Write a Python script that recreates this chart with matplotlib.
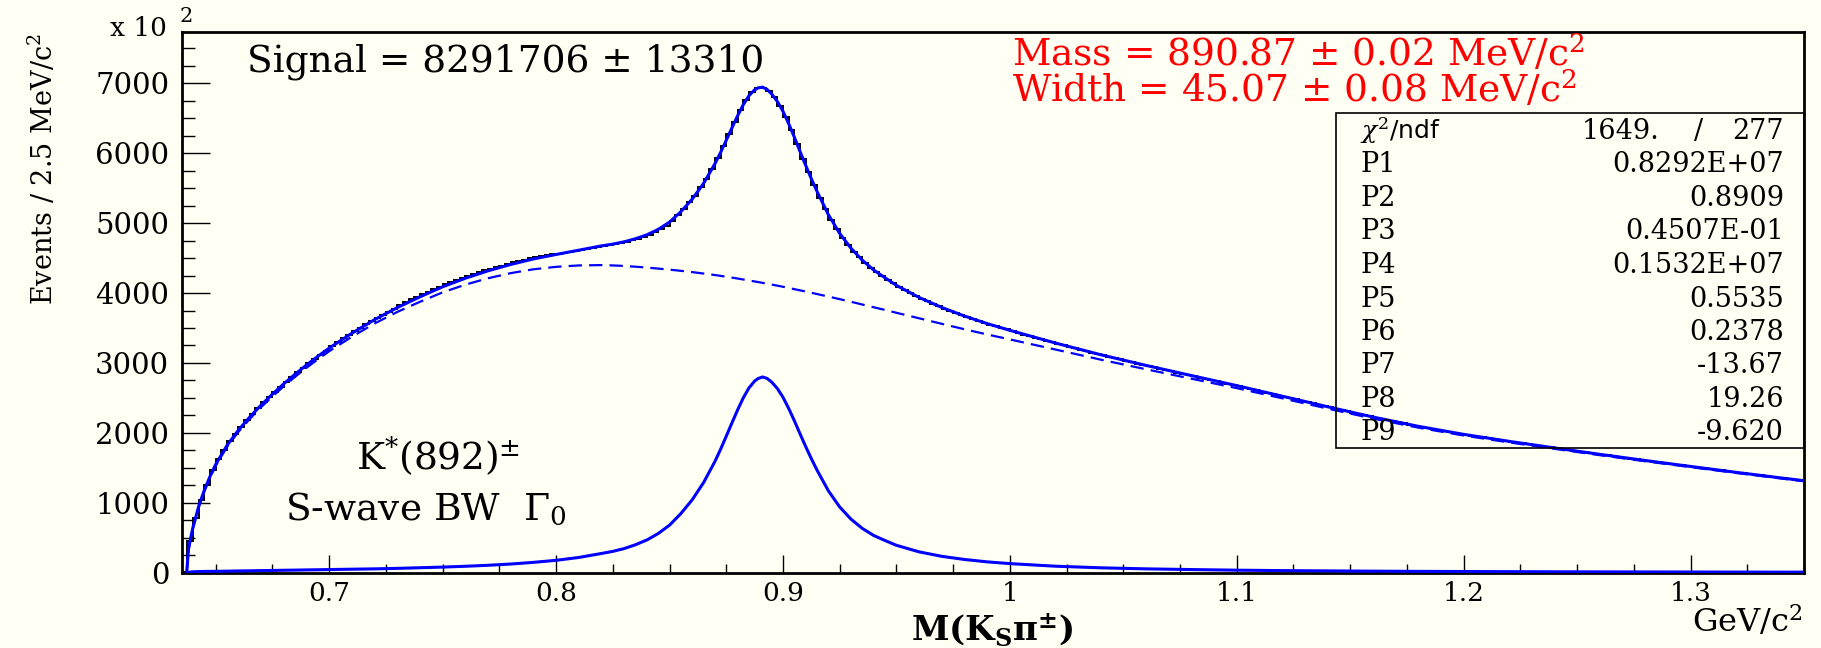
import numpy as np
import matplotlib
matplotlib.use("Agg")
import matplotlib.pyplot as plt
from matplotlib.patches import Rectangle
from matplotlib.ticker import FixedLocator, FixedFormatter, MultipleLocator

# ---------------------------------------------------------------------------
# K_S pi+- invariant mass spectrum, counts per 2.5 MeV bin in units of 100
# ---------------------------------------------------------------------------
BIN_LO = 0.635        # GeV/c^2, lower edge of first bin
BIN_WIDTH = 0.0025    # GeV/c^2

HIST = [
    10, 460, 780, 1040, 1250, 1465, 1622, 1757, 1880, 1987,
    2088, 2181, 2270, 2354, 2435, 2513, 2588, 2662, 2733, 2801,
    2869, 2933, 2997, 3058, 3119, 3176, 3248, 3301, 3353, 3406,
    3457, 3506, 3555, 3603, 3650, 3692, 3735, 3777, 3833, 3870,
    3909, 3947, 3984, 4020, 4055, 4092, 4125, 4155, 4185, 4215,
    4244, 4270, 4296, 4323, 4347, 4369, 4392, 4414, 4442, 4461,
    4479, 4499, 4515, 4532, 4540, 4553, 4557, 4571, 4585, 4599,
    4613, 4627, 4641, 4657, 4673, 4689, 4704, 4719, 4735, 4754,
    4776, 4802, 4832, 4868, 4912, 4966, 5032, 5112, 5200, 5297,
    5394, 5511, 5632, 5773, 5929, 6098, 6276, 6452, 6621, 6767,
    6875, 6934, 6940, 6893, 6798, 6677, 6516, 6327, 6128, 5923,
    5727, 5541, 5365, 5202, 5044, 4915, 4790, 4689, 4590, 4509,
    4429, 4362, 4297, 4243, 4190, 4137, 4085, 4042, 4001, 3958,
    3917, 3881, 3847, 3811, 3776, 3747, 3716, 3686, 3657, 3629,
    3603, 3576, 3550, 3527, 3504, 3481, 3458, 3428, 3406, 3383,
    3361, 3339, 3317, 3295, 3274, 3252, 3231, 3210, 3190, 3169,
    3148, 3127, 3107, 3088, 3069, 3050, 3030, 3011, 2992, 2974,
    2955, 2937, 2918, 2900, 2882, 2863, 2845, 2827, 2810, 2792,
    2774, 2756, 2738, 2720, 2702, 2684, 2666, 2647, 2629, 2610,
    2590, 2571, 2553, 2534, 2516, 2496, 2478, 2459, 2440, 2421,
    2402, 2383, 2365, 2346, 2328, 2309, 2291, 2273, 2255, 2236,
    2219, 2203, 2185, 2169, 2152, 2136, 2119, 2102, 2087, 2073,
    2058, 2044, 2029, 2014, 2000, 1986, 1973, 1960, 1947, 1935,
    1922, 1910, 1897, 1885, 1873, 1861, 1849, 1838, 1826, 1814,
    1802, 1791, 1779, 1768, 1756, 1744, 1733, 1721, 1710, 1699,
    1688, 1677, 1665, 1654, 1643, 1632, 1621, 1610, 1600, 1589,
    1578, 1567, 1557, 1546, 1536, 1525, 1515, 1504, 1494, 1483,
    1472, 1462, 1452, 1441, 1431, 1421, 1411, 1401, 1391, 1380,
    1370, 1360, 1350, 1340, 1331, 1321,
]

# Fit components sampled on a common mass grid (units of 100 / 2.5 MeV)
CURVE_MASS = [
    0.6372, 0.638, 0.639, 0.640, 0.6425, 0.645, 0.6475, 0.650,
    0.655, 0.660, 0.665, 0.670, 0.675, 0.680, 0.685, 0.690, 0.695, 0.700,
    0.710, 0.720, 0.730, 0.740, 0.750, 0.760, 0.770, 0.780, 0.790, 0.800,
    0.810, 0.820, 0.825, 0.830, 0.835, 0.840,
    0.845, 0.850, 0.855, 0.860, 0.865, 0.870,
    0.8725, 0.875, 0.8775, 0.880, 0.8825, 0.885, 0.8875, 0.889, 0.891,
    0.893, 0.895, 0.8975, 0.900, 0.9025, 0.905, 0.9075, 0.910, 0.9125, 0.915,
    0.920, 0.925, 0.930, 0.935, 0.940, 0.945, 0.950,
    0.960, 0.970, 0.980, 0.990, 1.000,
    1.020, 1.040, 1.060, 1.080, 1.100, 1.120, 1.140, 1.160, 1.180, 1.200,
    1.220, 1.240, 1.260, 1.280, 1.300, 1.320, 1.340, 1.350,
]
BKG = [
    0, 330, 495, 640, 935, 1165, 1360, 1530,
    1800, 2015, 2200, 2368, 2522, 2667, 2803, 2931, 3053, 3168,
    3375, 3565, 3730, 3875, 4010, 4120, 4212, 4285, 4340, 4375,
    4395, 4400, 4395, 4388, 4377, 4365,
    4350, 4335, 4318, 4300, 4279, 4258,
    4246, 4233, 4221, 4208, 4194, 4180, 4166, 4158, 4146,
    4133, 4121, 4106, 4090, 4073, 4056, 4039, 4022, 4004, 3986,
    3950, 3913, 3875, 3836, 3797, 3758, 3718,
    3639, 3560, 3482, 3408, 3337,
    3193, 3048, 2910, 2775, 2640, 2495, 2348, 2205, 2075, 1962,
    1864, 1772, 1681, 1594, 1510, 1427, 1347, 1308,
]
SIG = [
    0, 6, 10, 13, 16, 18, 19, 20,
    22, 25, 27, 30, 32, 35, 37, 40, 42, 45,
    50, 55, 62, 71, 80, 92, 106, 124, 148, 177,
    218, 275, 305, 345, 400, 468,
    560, 680, 846, 1043, 1289, 1591,
    1765, 1952, 2142, 2328, 2500, 2643, 2741, 2777, 2800,
    2779, 2727, 2636, 2510, 2351, 2175, 1988, 1805, 1631, 1468,
    1172, 940, 765, 633, 532, 460, 392,
    298, 234, 189, 155, 130,
    93, 70, 55, 45, 36, 30, 26, 22, 19, 17,
    15, 13, 12, 11, 10, 9, 8, 8,
]

# Fit results
SIGNAL_YIELD = 8291706
SIGNAL_ERR = 13310
MASS_MEV, MASS_ERR = 890.87, 0.02
WIDTH_MEV, WIDTH_ERR = 45.07, 0.08
CHI2_TEXT, NDF = "1649.", 277
PAR_NAMES = ["P1", "P2", "P3", "P4", "P5", "P6", "P7", "P8", "P9"]
PAR_VALUES = ["0.8292E+07", "0.8909", "0.4507E-01", "0.1532E+07", "0.5535",
              "0.2378", "-13.67", "19.26", "-9.620"]

XTICKS = [0.7, 0.8, 0.9, 1.0, 1.1, 1.2, 1.3]
XTICK_LABELS = ["0.7", "0.8", "0.9", "1", "1.1", "1.2", "1.3"]
YTICKS = [0, 1000, 2000, 3000, 4000, 5000, 6000, 7000]
YTICK_LABELS = ["0", "1000", "2000", "3000", "4000", "5000", "6000", "7000"]

# ---------------------------------------------------------------------------
plt.rcParams["font.family"] = ["DejaVu Serif"]
plt.rcParams["mathtext.fontset"] = "dejavuserif"

PAPER = "#fffff3"
BLUE = "#0000ff"
W, H = 1821, 648

fig = plt.figure(figsize=(W / 100, H / 100), dpi=100, facecolor=PAPER)


def fx(px):
    return px / W


def fy(py):
    return 1 - py / H


ax_l, ax_r, ax_t, ax_b = 181.7, 1804.0, 32.3, 572.7
ax = fig.add_axes([fx(ax_l), fy(ax_b), fx(ax_r) - fx(ax_l), fy(ax_t) - fy(ax_b)])
ax.set_facecolor(PAPER)

edges = BIN_LO + BIN_WIDTH * np.arange(len(HIST) + 1)
mass = np.array(CURVE_MASS)
bkg = np.array(BKG, dtype=float)
sig = np.array(SIG, dtype=float)

ax.stairs(HIST, edges, color="black", lw=1.4, baseline=None, zorder=2)
ax.plot(mass, bkg, color=BLUE, lw=1.6, ls=(0, (6, 3.2)), zorder=3)
ax.plot(mass, bkg + sig, color=BLUE, lw=2.2, zorder=4)
ax.plot(mass, sig, color=BLUE, lw=2.2, zorder=4)

ax.set_xlim(edges[0], edges[-1])
ax.set_ylim(0, 7730)

ax.xaxis.set_major_locator(FixedLocator(XTICKS))
ax.xaxis.set_major_formatter(FixedFormatter(XTICK_LABELS))
ax.xaxis.set_minor_locator(MultipleLocator(0.025))
ax.yaxis.set_major_locator(FixedLocator(YTICKS))
ax.yaxis.set_major_formatter(FixedFormatter(YTICK_LABELS))
ax.yaxis.set_minor_locator(MultipleLocator(250))

ax.tick_params(axis="x", which="major", direction="in", length=13, width=1.0,
               top=False, labelsize=19, pad=6)
ax.tick_params(axis="x", which="minor", direction="in", length=6.5, width=1.0,
               top=False)
ax.tick_params(axis="y", which="major", direction="in", length=20, width=1.0,
               right=False, labelsize=21, pad=9)
ax.tick_params(axis="y", which="minor", direction="in", length=9.5, width=1.0,
               right=False)
for sp in ax.spines.values():
    sp.set_linewidth(2.0)
    sp.set_color("black")

# Statistics box (top-right, open so the curves show through)
box_l, box_t, box_b = 1336.0, 113.0, 447.7
ax.add_patch(Rectangle((fx(box_l), fy(box_b)), fx(ax_r) - fx(box_l),
                       fy(box_t) - fy(box_b), transform=fig.transFigure,
                       fill=False, lw=1.2, ec="black", zorder=6))
row0, row_step = 139.0, 33.5
fig.text(fx(1360), fy(row0), r"$\chi^2$/ndf", family=["DejaVu Sans"],
         fontsize=18, va="baseline", ha="left")
fig.text(fx(1659), fy(row0), CHI2_TEXT, fontsize=19.5, va="baseline", ha="right")
fig.text(fx(1699), fy(row0), "/", fontsize=19.5, va="baseline", ha="center")
fig.text(fx(1784), fy(row0), str(NDF), fontsize=19.5, va="baseline", ha="right")
for k, (name, val) in enumerate(zip(PAR_NAMES, PAR_VALUES), start=1):
    yb = row0 + row_step * k
    fig.text(fx(1360), fy(yb), name, fontsize=19.5, va="baseline", ha="left")
    fig.text(fx(1784), fy(yb), val, fontsize=19.5, va="baseline", ha="right")

# Annotations
fig.text(fx(506), fy(71), f"Signal = {SIGNAL_YIELD} \u00b1 {SIGNAL_ERR}",
         fontsize=27, ha="center", va="baseline")
# two-line block; the anchor is the baseline of the lower line
fig.text(fx(1012), fy(102),
         f"Mass = {MASS_MEV:.2f} \u00b1 {MASS_ERR:.2f} MeV/c$^2$\n"
         f"Width = {WIDTH_MEV:.2f} \u00b1 {WIDTH_ERR:.2f} MeV/c$^2$",
         fontsize=27, color="red", ha="left", va="baseline",
         linespacing=0.86)
fig.text(fx(438), fy(470), r"K$^{*}$(892)$^{\pm}$", fontsize=27,
         ha="center", va="baseline")
fig.text(fx(426), fy(520), r"S-wave BW  $\Gamma_0$", fontsize=27,
         ha="center", va="baseline")

# Axis titles
fig.text(fx(167), fy(36), "x 10", fontsize=19, ha="right", va="baseline")
fig.text(fx(180), fy(22), "2", fontsize=15, ha="left", va="baseline")
fig.text(fx(43), fy(33), r"Events / 2.5 MeV/c$^2$", fontsize=19.5,
         rotation=90, ha="center", va="top")
fig.text(fx(992), fy(640), r"$\mathbf{M(K_{S}\pi^{\pm})}$", fontsize=24.5,
         ha="center", va="baseline")
fig.text(fx(1803), fy(631.7), r"GeV/c$^2$", fontsize=23, ha="right",
         va="baseline")

fig.savefig("out.png", dpi=100, facecolor=PAPER)
